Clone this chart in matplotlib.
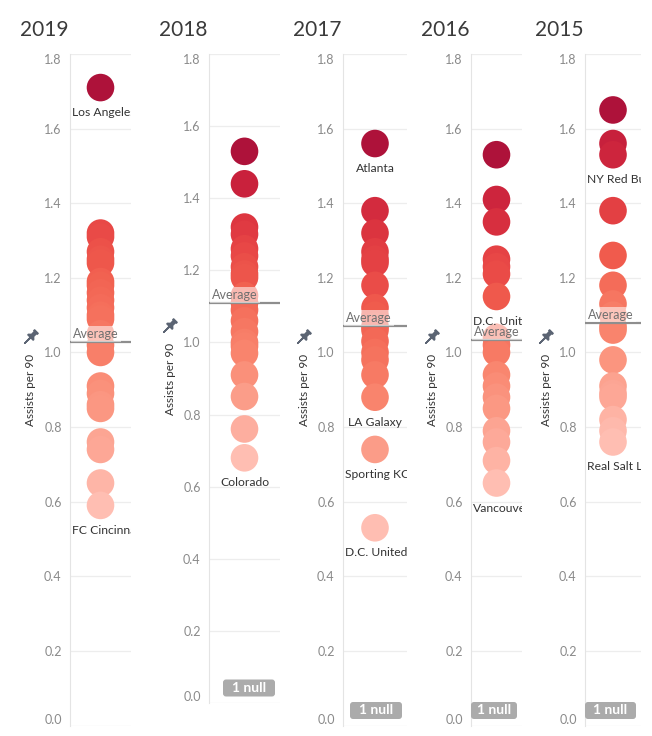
import numpy as np
import matplotlib
matplotlib.use("Agg")
import matplotlib.pyplot as plt
import matplotlib.transforms as mtransforms
from matplotlib.colors import LinearSegmentedColormap, Normalize
from matplotlib.markers import MarkerStyle
from matplotlib.patches import FancyBboxPatch
from matplotlib.path import Path

plt.rcParams['font.family'] = ['Lato', 'DejaVu Sans']

# data
years = ['2019', '2018', '2017', '2016', '2015']

values_2019 = [1.71, 1.32, 1.31, 1.27, 1.25, 1.24, 1.19, 1.18, 1.16, 1.14, 1.12, 1.10,
               1.09, 1.05, 1.02, 1.00, 0.91, 0.89, 0.86, 0.85, 0.76, 0.74, 0.65, 0.59]
values_2018 = [1.53, 1.44, 1.32, 1.30, 1.26, 1.24, 1.21, 1.19, 1.18, 1.13, 1.11, 1.09,
               1.06, 1.03, 1.00, 0.99, 0.97, 0.91, 0.85, 0.76, 0.68]
values_2017 = [1.56, 1.38, 1.32, 1.27, 1.25, 1.24, 1.18, 1.12, 1.10, 1.07, 1.06, 1.03,
               1.00, 0.98, 0.94, 0.88, 0.74, 0.53]
values_2016 = [1.53, 1.41, 1.35, 1.25, 1.23, 1.21, 1.15, 1.04, 1.02, 1.00, 0.94, 0.91,
               0.88, 0.85, 0.79, 0.76, 0.71, 0.65]
values_2015 = [1.65, 1.56, 1.53, 1.38, 1.26, 1.18, 1.13, 1.10, 1.07, 1.06, 0.98, 0.91,
               0.89, 0.88, 0.82, 0.79, 0.76]

averages = [1.027, 1.11, 1.07, 1.033, 1.08]
null_counts = [0, 1, 1, 1, 1]

label_values = [[1.71, 0.59], [0.68], [1.56, 0.88, 0.74, 0.53], [1.15, 0.65], [1.53, 0.76]]
label_names = [['Los Angeles FC', 'FC Cincinnati'], ['Colorado'],
               ['Atlanta', 'LA Galaxy', 'Sporting KC', 'D.C. United'],
               ['D.C. United', 'Vancouver Whitecaps'], ['NY Red Bulls', 'Real Salt Lake']]

all_values = [values_2019, values_2018, values_2017, values_2016, values_2015]

reds = LinearSegmentedColormap.from_list('tab_reds', [
    "#ffbeb2", "#fdab9b", "#fb9984", "#f9856e", "#f5715d",
    "#f05c4d", "#e74545", "#da323f", "#ca223c", "#ae123a"])

# panel boxes in pixels: left, right, top, bottom
W, H = 652, 736
panels = [(70, 131, 54, 725.5), (209, 280, 54, 703), (343, 407, 54, 725.5),
          (471, 522, 54, 725.5), (585, 641, 54, 725.5)]

pin_verts = [(-0.3, 1.0), (0.3, 1.0), (0.3, 0.85), (0.18, 0.85), (0.18, 0.35),
             (0.45, 0.1), (0.45, 0.0), (0.05, 0.0), (0.0, -1.0), (-0.05, 0.0),
             (-0.45, 0.0), (-0.45, 0.1), (-0.18, 0.35), (-0.18, 0.85), (-0.3, 0.85),
             (-0.3, 1.0)]
pin_path = Path(pin_verts, [Path.MOVETO] + [Path.LINETO] * (len(pin_verts) - 2) + [Path.CLOSEPOLY])
pin_marker = MarkerStyle(pin_path, transform=mtransforms.Affine2D().rotate_deg(-45))

fig = plt.figure(figsize=(6.52, 7.36), dpi=100)
label_texts = []

for i, year in enumerate(years):
    l, r, t, b = panels[i]
    ax = fig.add_axes([l / W, 1 - b / H, (r - l) / W, (b - t) / H])
    vals = np.array(all_values[i])

    ax.set_xlim(-1, 1)
    ax.set_ylim(0, 1.8)
    ticks = np.round(np.arange(0, 1.81, 0.2), 1)
    ax.set_yticks(ticks)
    ax.set_yticklabels([f'{v:.1f}' for v in ticks])
    ax.set_xticks([])
    ax.tick_params(axis='y', length=0, pad=6, labelsize=9, labelcolor='#8a8a8a')
    major = ax.yaxis.get_major_ticks()
    major[-1].label1.set_verticalalignment('top')
    major[0].label1.set_verticalalignment('bottom')
    ax.yaxis.grid(True, color='#ededed', lw=0.9)
    ax.set_axisbelow(True)
    for side in ['top', 'right', 'bottom']:
        ax.spines[side].set_visible(False)
    ax.spines['left'].set_color('#e4e4e4')

    norm = Normalize(vals.min(), vals.max())
    ax.scatter(np.zeros(len(vals)), vals, s=395, c=vals, cmap=reds, norm=norm,
               edgecolors='none', zorder=3)

    avg = averages[i]
    ax.axhline(avg, color='#8e8e8e', lw=1.6, zorder=4)
    ax.annotate('Average', xy=(0, avg), xycoords=('axes fraction', 'data'),
                xytext=(3, 2), textcoords='offset pixels', ha='left', va='bottom',
                fontsize=9, color='#707070', zorder=5, annotation_clip=False, clip_on=True,
                bbox=dict(boxstyle='square,pad=0.15', fc='white', ec='none', alpha=0.55))

    for v, name in zip(label_values[i], label_names[i]):
        txt = ax.annotate(name, xy=(0.5, v), xycoords=('axes fraction', 'data'),
                          xytext=(0, -25), textcoords='offset pixels', ha='center',
                          va='center', fontsize=8.7, color='#333333', zorder=6, clip_on=True)
        label_texts.append((ax, txt))

    if null_counts[i]:
        # grey badge in the lower right corner of the pane (display pixels)
        bw = min(52, (r - l) - 5)
        x1, y0 = r - 5, H - (b - 6.5)
        badge = FancyBboxPatch((x1 - bw, y0), bw, 17, boxstyle='round,pad=0,rounding_size=3',
                               fc='#ababab', ec='none', transform=mtransforms.IdentityTransform(),
                               zorder=6)
        fig.add_artist(badge)
        fig.text(x1 - bw / 2, y0 + 8.5, f'{null_counts[i]} null', ha='center', va='center',
                 fontsize=10, fontweight='bold', color='white',
                 transform=mtransforms.IdentityTransform(), zorder=7)

    ax.annotate('Assists per 90', xy=(0, 0.5), xycoords='axes fraction',
                xytext=(-39, 0), textcoords='offset pixels', rotation=90,
                ha='center', va='center', fontsize=8.5, color='#333333')
    pin_trans = ax.transAxes + mtransforms.ScaledTranslation(-40 / 100, 53 / 100, fig.dpi_scale_trans)
    ax.plot([0], [0.5], marker=pin_marker, ms=12, color='#5b6473', linestyle='none',
            transform=pin_trans, clip_on=False)

    fig.text((l - 50) / W, 1 - 30 / H, year, ha='left', va='center',
             fontsize=15, color='#3a3a3a')

# labels too wide for their pane start at the left edge and get cut at the right
fig.canvas.draw()
renderer = fig.canvas.get_renderer()
for ax, txt in label_texts:
    pane_w = ax.get_window_extent(renderer).width
    if txt.get_window_extent(renderer).width > pane_w - 2:
        txt.xy = (0, txt.xy[1])
        txt.set_horizontalalignment('left')
        txt.set_position((2, -25))
        # drop the characters that would fall wholly outside the pane anyway
        s = txt.get_text()
        while len(s) > 1 and txt.get_window_extent(renderer).width > pane_w + 4:
            s = s[:-1]
            txt.set_text(s)

fig.savefig('out.png', dpi=100)
